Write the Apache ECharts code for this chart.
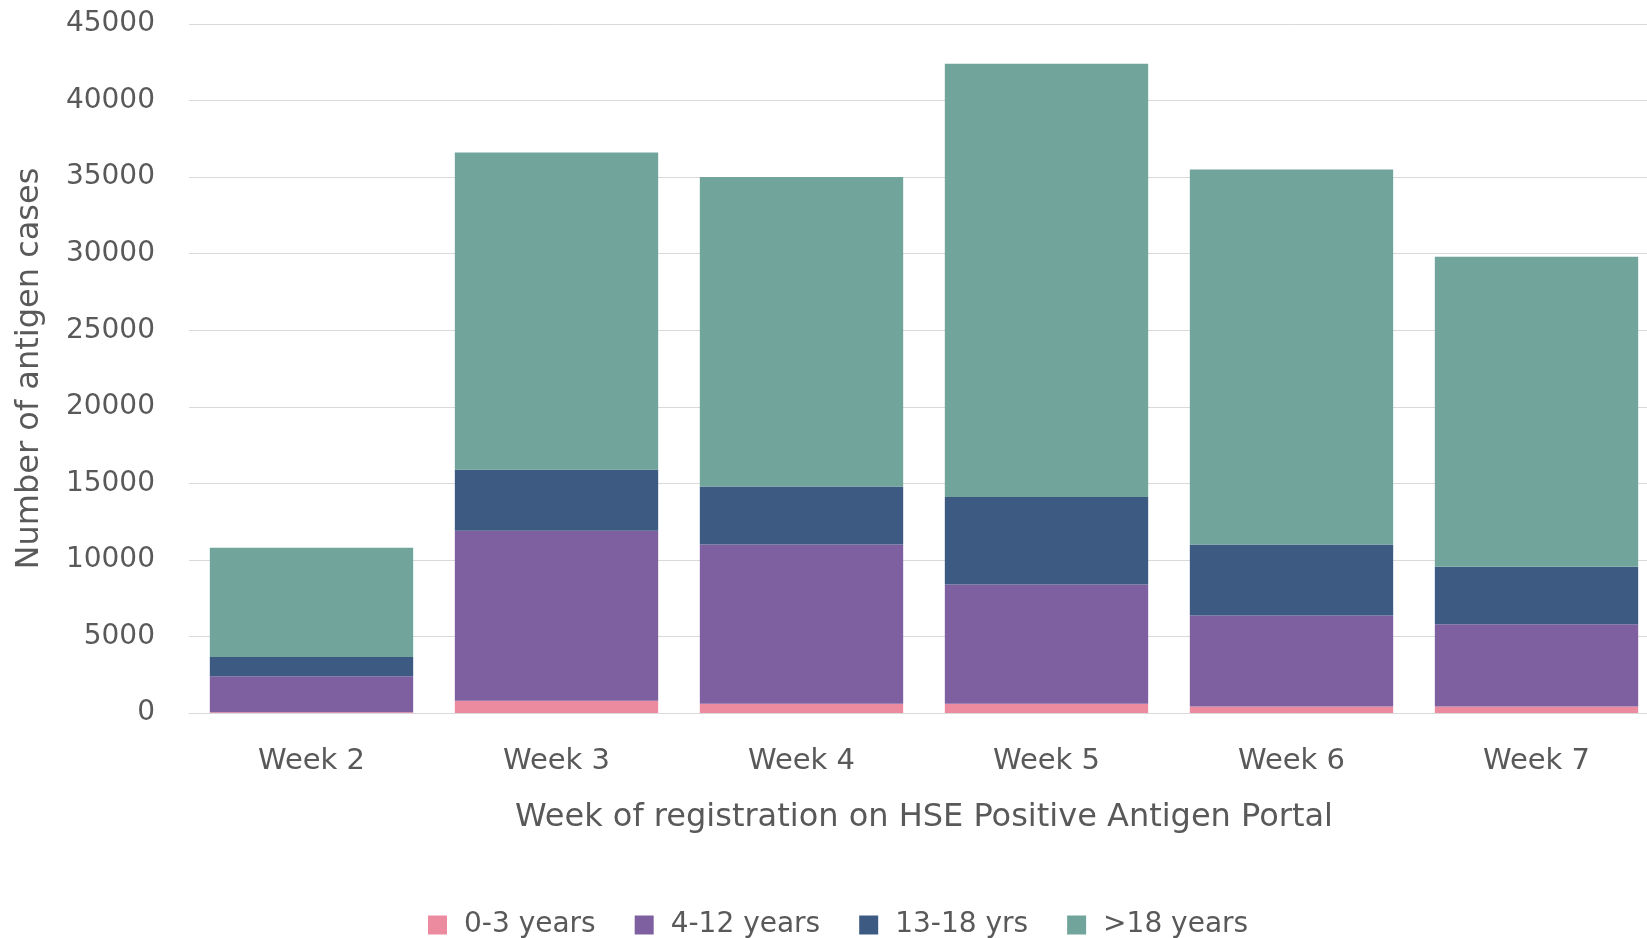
<!DOCTYPE html>
<html>
<head>
<meta charset="utf-8">
<script src="https://cdn.jsdelivr.net/npm/echarts@6/dist/echarts.min.js"></script>
<style>
html,body{margin:0;padding:0;background:#fff;overflow:hidden;}
#chart{width:1700px;height:938px;}
</style>
</head>
<body>
<div id="chart"></div>
<script>
const categories = ['Week 2', 'Week 3', 'Week 4', 'Week 5', 'Week 6', 'Week 7'];
const seriesNames = ['0-3 years', '4-12 years', '13-18 yrs', '>18 years'];
const age0to3 = [50, 800, 600, 600, 420, 420];
const age4to12 = [2350, 11100, 10400, 7800, 5940, 5380];
const age13to18 = [1250, 4000, 3800, 5700, 4640, 3750];
const age18plus = [7150, 20700, 20200, 28300, 24500, 20250];
const yTicks = [0, 5000, 10000, 15000, 20000, 25000, 30000, 35000, 40000, 45000];

const colors = ['#EC8AA0', '#7E60A0', '#3D5B82', '#71A59B'];
const dataSets = [age0to3, age4to12, age13to18, age18plus];
const FONT = 'DejaVu Sans';

const chart = echarts.init(document.getElementById('chart'));
chart.setOption({
  animation: false,
  backgroundColor: '#ffffff',
  color: colors,
  grid: { left: 189, top: 24, width: 1470, height: 689, containLabel: false },
  legend: {
    data: seriesNames,
    left: 428,
    top: 911,
    padding: 0,
    itemWidth: 19,
    itemHeight: 19,
    itemGap: 39,
    icon: 'rect',
    textStyle: { fontFamily: FONT, fontSize: 28, color: '#595959', padding: [0, 0, 0, 12] }
  },
  xAxis: {
    type: 'category',
    data: categories,
    name: 'Week of registration on HSE Positive Antigen Portal',
    nameLocation: 'middle',
    nameGap: 89,
    nameTextStyle: { fontFamily: FONT, fontSize: 32, color: '#595959' },
    axisLine: { show: true, lineStyle: { color: '#d9d9d9', width: 1 } },
    axisTick: { show: false },
    axisLabel: { fontFamily: FONT, fontSize: 29, color: '#595959', margin: 34 }
  },
  yAxis: {
    type: 'value',
    min: 0,
    max: 45000,
    interval: 5000,
    name: 'Number of antigen cases',
    nameLocation: 'middle',
    nameGap: 143,
    nameRotate: 90,
    nameTextStyle: { fontFamily: FONT, fontSize: 32, color: '#595959' },
    axisLine: { show: false },
    axisTick: { show: false },
    splitLine: { lineStyle: { color: '#d9d9d9', width: 1 } },
    axisLabel: {
      fontFamily: FONT, fontSize: 28, color: '#595959', margin: 34,
      formatter: function (v) { return yTicks.indexOf(v) >= 0 ? String(v) : ''; }
    }
  },
  series: seriesNames.map(function (name, i) {
    return {
      name: name,
      type: 'bar',
      stack: 'total',
      data: dataSets[i],
      barCategoryGap: '17%',
      itemStyle: { color: colors[i] }
    };
  })
});
</script>
</body>
</html>
